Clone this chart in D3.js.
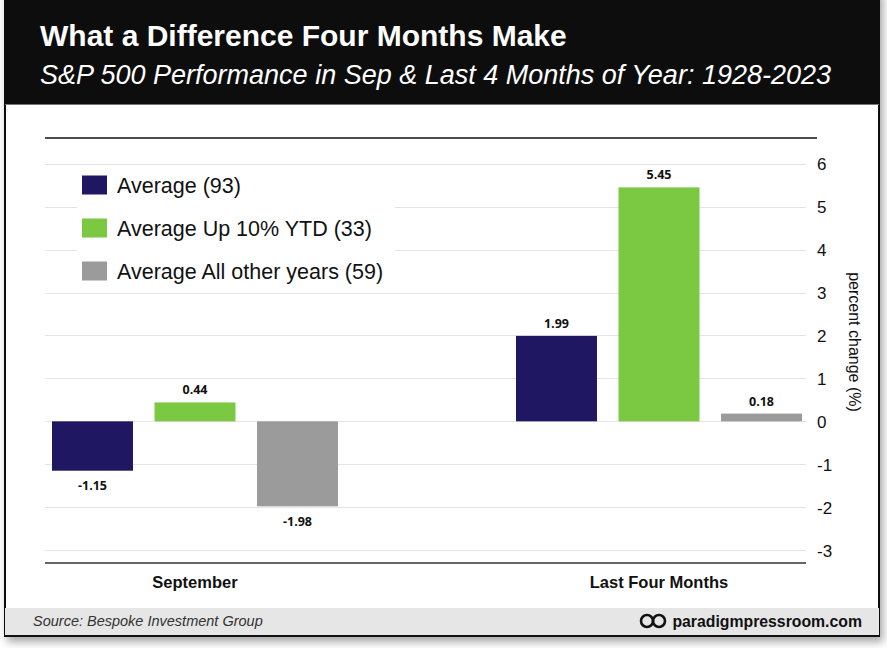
<!DOCTYPE html>
<html>
<head>
<meta charset="utf-8">
<script src="https://cdn.jsdelivr.net/npm/d3@7"></script>
<style>
  body { margin: 0; background: #ffffff; }
  svg { display: block; }
  text { font-family: "Liberation Sans", Arial, Helvetica, sans-serif; }
</style>
</head>
<body>
<svg id="chart" width="887" height="648"></svg>
<script>
// ---------- data ----------
const categories = ["September", "Last Four Months"];
const seriesNames = ["Average (93)", "Average Up 10% YTD (33)", "Average All other years (59)"];
const seriesColors = ["#1f1762", "#7bc943", "#9b9b9b"];
const averageAll = [-1.15, 1.99];
const averageUp10 = [0.44, 5.45];
const averageOther = [-1.98, 0.18];
const yTicks = [-3, -2, -1, 0, 1, 2, 3, 4, 5, 6];
const titleText = "What a Difference Four Months Make";
const subtitleText = "S&P 500 Performance in Sep & Last 4 Months of Year: 1928-2023";
const sourceText = "Source: Bespoke Investment Group";
const brandText = "paradigmpressroom.com";
const yAxisTitle = "percent change (%)";

const seriesValues = [averageAll, averageUp10, averageOther];
const hyphen = s => s.replace("\u2212", "-");

const svg = d3.select("#chart");

// ---------- frame with shadow ----------
const defs = svg.append("defs");
const f = defs.append("filter").attr("id", "shadow").attr("x", "-5%").attr("y", "-5%").attr("width", "115%").attr("height", "115%");
f.append("feDropShadow").attr("dx", 3).attr("dy", 5).attr("stdDeviation", 4).attr("flood-color", "#000").attr("flood-opacity", 0.35);

svg.append("rect").attr("x", 5).attr("y", -10).attr("width", 874).attr("height", 646)
  .attr("fill", "#ffffff").attr("stroke", "#111").attr("stroke-width", 2).attr("filter", "url(#shadow)");

// header
svg.append("rect").attr("x", 5).attr("y", -10).attr("width", 874).attr("height", 114).attr("fill", "#0d0d0d");
svg.append("line").attr("x1", 5).attr("x2", 879).attr("y1", 104.5).attr("y2", 104.5).attr("stroke", "#777").attr("stroke-width", 1);
svg.append("text").attr("x", 40).attr("y", 46).attr("fill", "#fff")
  .style("font-weight", "bold").style("font-size", "30px").text(titleText);
svg.append("text").attr("x", 40).attr("y", 84).attr("fill", "#fff")
  .style("font-style", "italic").style("font-size", "27px").text(subtitleText);

// footer
svg.append("rect").attr("x", 5).attr("y", 608).attr("width", 874).attr("height", 28).attr("fill", "#e6e6e6");
svg.append("line").attr("x1", 5).attr("x2", 879).attr("y1", 636).attr("y2", 636).attr("stroke", "#111").attr("stroke-width", 2);
svg.append("text").attr("x", 33).attr("y", 626).attr("fill", "#333")
  .style("font-style", "italic").style("font-size", "14.5px").text(sourceText);
svg.append("text").attr("x", 862).attr("y", 627).attr("fill", "#111").attr("text-anchor", "end")
  .style("font-weight", "bold").style("font-size", "15.8px").text(brandText);
// logo
const logo = svg.append("g").attr("fill", "none").attr("stroke", "#111").attr("stroke-width", 2.6);
logo.append("ellipse").attr("cx", 647).attr("cy", 621).attr("rx", 6).attr("ry", 6);
logo.append("ellipse").attr("cx", 659).attr("cy", 621).attr("rx", 6).attr("ry", 6);

// ---------- scales ----------
const plotLeft = 45, plotRight = 806;
const y = d3.scaleLinear().domain([-3.3, 6.6]).range([563, 138]);
const x0 = d3.scaleBand().domain(categories).range([52, 802]).paddingInner(0.3836).paddingOuter(0);
const x1 = d3.scaleBand().domain(seriesNames).range([0, x0.bandwidth()]).paddingInner(0.21).paddingOuter(0);

// gridlines
svg.append("g").selectAll("line").data(yTicks).join("line")
  .attr("x1", plotLeft).attr("x2", plotRight)
  .attr("y1", d => Math.round(y(d)) + 0.5).attr("y2", d => Math.round(y(d)) + 0.5)
  .attr("stroke", "#e4e4e4").attr("stroke-width", 1);

// top/bottom borders
svg.append("line").attr("x1", plotLeft).attr("x2", 817).attr("y1", y(6.6)).attr("y2", y(6.6)).attr("stroke", "#111").attr("stroke-width", 1.5);
svg.append("line").attr("x1", plotLeft).attr("x2", plotRight).attr("y1", y(-3.3)).attr("y2", y(-3.3)).attr("stroke", "#333").attr("stroke-width", 1.5);

// y axis (right)
const yAxis = d3.axisRight(y).tickValues(yTicks).tickSize(0).tickPadding(0).tickFormat(d => hyphen(d3.format("d")(d)));
const ga = svg.append("g").attr("transform", "translate(817,0)").call(yAxis);
ga.select(".domain").remove();
ga.selectAll("text").attr("x", 0).attr("dy", "0.35em").attr("fill", "#111")
  .style("font-size", "17px").style("font-family", "Liberation Sans, Arial, sans-serif");

svg.append("text").attr("transform", "translate(855,342) rotate(90)").attr("text-anchor", "middle")
  .attr("dy", "0.35em").attr("fill", "#111").style("font-size", "16px").text(yAxisTitle);

// ---------- bars ----------
const bars = [];
categories.forEach((c, ci) => {
  seriesNames.forEach((s, si) => bars.push({ cat: c, series: s, color: seriesColors[si], value: seriesValues[si][ci] }));
});

const gb = svg.append("g");
gb.selectAll("rect").data(bars).join("rect")
  .attr("x", d => x0(d.cat) + x1(d.series))
  .attr("width", x1.bandwidth())
  .attr("y", d => y(Math.max(0, d.value)))
  .attr("height", d => Math.abs(y(d.value) - y(0)))
  .attr("fill", d => d.color);

gb.selectAll("text").data(bars).join("text")
  .attr("x", d => x0(d.cat) + x1(d.series) + x1.bandwidth() / 2)
  .attr("y", d => d.value >= 0 ? y(d.value) - 8 : y(d.value) + 10)
  .attr("dy", d => d.value >= 0 ? "0" : "0.75em")
  .attr("text-anchor", "middle").attr("fill", "#111")
  .style("font-family", "'Open Sans', sans-serif").style("font-weight", "bold").style("font-size", "12.5px")
  .text(d => hyphen(d3.format(".2f")(d.value)));

// category labels
svg.append("g").selectAll("text").data(categories).join("text")
  .attr("x", d => x0(d) + x0.bandwidth() / 2)
  .attr("y", 582).attr("dy", "0.35em").attr("text-anchor", "middle").attr("fill", "#111")
  .style("font-weight", "bold").style("font-size", "16.5px").text(d => d);

// ---------- legend ----------
const lg = svg.append("g");
lg.append("rect").attr("x", 77).attr("y", 168).attr("width", 318).attr("height", 120).attr("fill", "#fff");
const rows = lg.selectAll("g").data(seriesNames).join("g")
  .attr("transform", (d, i) => `translate(82,${185 + i * 43})`);
rows.append("rect").attr("x", 0).attr("y", -9.5).attr("width", 25).attr("height", 19).attr("fill", (d, i) => seriesColors[i]);
rows.append("text").attr("x", 35).attr("dy", "0.35em").attr("fill", "#111").style("font-size", "21.5px").text(d => d);
</script>
</body>
</html>
